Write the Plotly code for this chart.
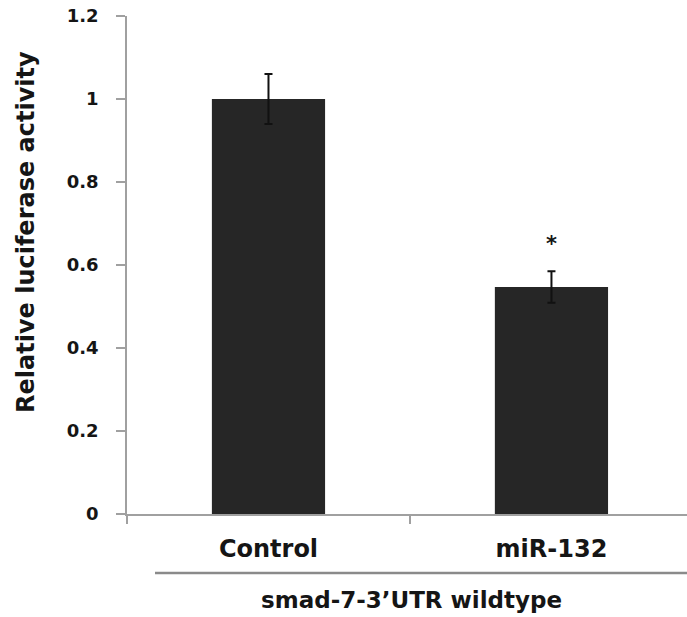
import plotly.graph_objects as go

categories = ["Control", "miR-132"]
values = [1.0, 0.547]
errors = [0.06, 0.038]
significance = ["", "*"]
group_label = "smad-7-3\u2019UTR wildtype"
y_title = "Relative luciferase activity"

FONT = "DejaVu Sans, Liberation Sans, Arial, sans-serif"
TXT = "#151515"
AX = "#a0a0a0"

fig = go.Figure()
fig.add_trace(go.Bar(
    x=categories, y=values,
    width=0.4,
    marker=dict(color="#262626", line=dict(width=0)),
    error_y=dict(type="data", array=errors, visible=True,
                 color="#111111", thickness=2, width=4),
    showlegend=False,
))

for c, v, e, s in zip(categories, values, errors, significance):
    if s:
        fig.add_annotation(x=c, y=v + e, text="<b>" + s + "</b>", showarrow=False,
                           yanchor="bottom", yshift=13,
                           font=dict(family=FONT, size=21, color=TXT))

# y-axis title (placed as in the reference, above plot centre)
fig.add_annotation(xref="paper", yref="paper", x=(26 - 127) / 560, y=(514 - 232) / 498,
                   text="<b>" + y_title + "</b>", textangle=-90, showarrow=False,
                   xanchor="center", yanchor="middle",
                   font=dict(family=FONT, size=24, color=TXT))

# group label with line above it
fig.add_shape(type="line", xref="paper", yref="paper",
              x0=(155 - 127) / 560, x1=1.0, y0=(514 - 573) / 498, y1=(514 - 573) / 498,
              line=dict(color="#8a8a8a", width=2.5))
fig.add_annotation(xref="paper", yref="paper", x=(411 - 127) / 560, y=(514 - 600) / 498,
                   text="<b>" + group_label + "</b>", showarrow=False,
                   xanchor="center", yanchor="middle",
                   font=dict(family=FONT, size=23, color=TXT))

fig.update_layout(
    width=687, height=617,
    margin=dict(l=127, r=0, t=16, b=103),
    paper_bgcolor="white", plot_bgcolor="white",
    font=dict(family=FONT, color=TXT),
    xaxis=dict(
        range=[-0.5, 1.479],
        showline=True, linecolor=AX, linewidth=1.5,
        ticks="outside", tickson="boundaries", ticklen=8, tickcolor=AX, tickwidth=1.5,
        tickfont=dict(family=FONT, size=24, color=TXT),
        ticklabelstandoff=12,
        showgrid=False, zeroline=False,
        tickvals=categories,
        ticktext=["<b>" + c + "</b>" for c in categories],
    ),
    yaxis=dict(
        range=[0, 1.2], dtick=0.2, tick0=0,
        showline=True, linecolor=AX, linewidth=1.5,
        ticks="outside", ticklen=9, tickcolor=AX, tickwidth=1.5,
        tickfont=dict(family=FONT, size=18, color=TXT),
        tickformat="~g",
        ticklabelstandoff=14,
        showgrid=False, zeroline=False,
    ),
)
fig.update_yaxes(tickprefix="<b>", ticksuffix="</b>")

fig.write_html("out.html")
